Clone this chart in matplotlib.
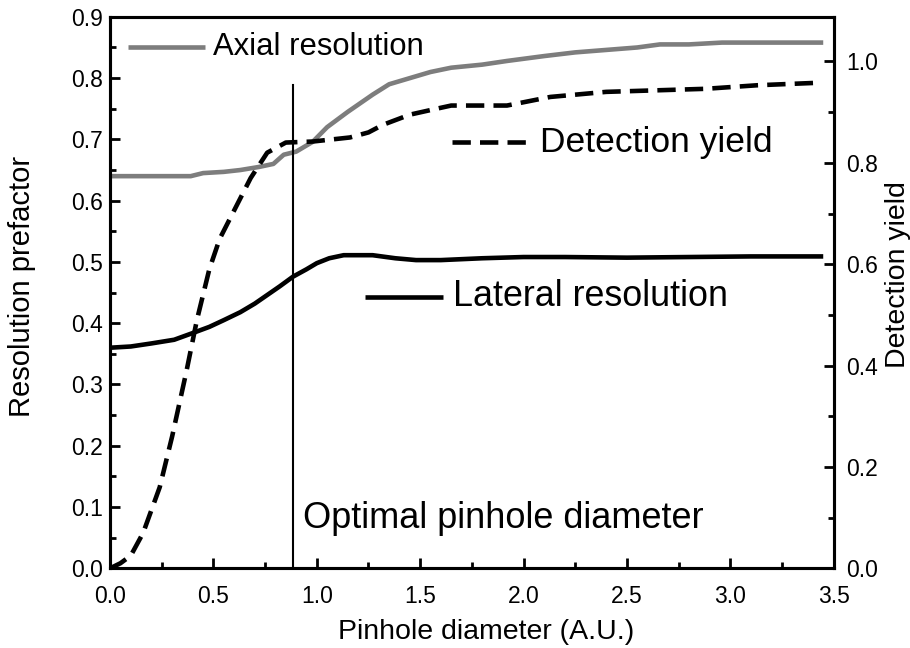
import numpy as np
import matplotlib.pyplot as plt
from matplotlib.ticker import MultipleLocator

plt.rcParams['font.family'] = ['Liberation Sans', 'DejaVu Sans']

# axial resolution prefactor (left axis)
axial_x = [0.0, 0.1, 0.2, 0.3, 0.39, 0.45, 0.55, 0.63, 0.72, 0.79, 0.84, 0.9, 0.98,
           1.05, 1.15, 1.27, 1.35, 1.45, 1.55, 1.65, 1.8, 1.92, 2.1, 2.25, 2.4, 2.55,
           2.66, 2.8, 2.96, 3.2, 3.45]
axial_y = [0.64, 0.64, 0.64, 0.64, 0.64, 0.645, 0.647, 0.65, 0.655, 0.66, 0.675, 0.68, 0.696,
           0.72, 0.745, 0.773, 0.79, 0.80, 0.81, 0.817, 0.822, 0.828, 0.836, 0.842, 0.846, 0.85,
           0.855, 0.855, 0.858, 0.858, 0.858]

# lateral resolution prefactor (left axis)
lateral_x = [0.0, 0.1, 0.2, 0.31, 0.4, 0.48, 0.55, 0.63, 0.7, 0.76, 0.82, 0.885, 0.95, 1.0,
             1.06, 1.13, 1.2, 1.27, 1.38, 1.48, 1.6, 1.8, 2.0, 2.2, 2.5, 2.8, 3.1, 3.45]
lateral_y = [0.36, 0.362, 0.367, 0.373, 0.384, 0.394, 0.405, 0.418, 0.432, 0.446, 0.46, 0.476,
             0.488, 0.498, 0.506, 0.511, 0.511, 0.511, 0.506, 0.503, 0.503, 0.506, 0.508, 0.508,
             0.507, 0.508, 0.509, 0.509]

# detection yield (right axis)
det_x = [0.0, 0.05, 0.1, 0.16, 0.24, 0.3, 0.37, 0.42, 0.48, 0.53, 0.58, 0.63, 0.68, 0.76, 0.85,
         0.98, 1.16, 1.25, 1.32, 1.45, 1.56, 1.65, 1.92, 2.13, 2.4, 2.88, 3.13, 3.43]
det_y = [0.0, 0.01, 0.025, 0.07, 0.16, 0.26, 0.39, 0.49, 0.59, 0.65, 0.69, 0.73, 0.77, 0.82, 0.84,
         0.842, 0.85, 0.86, 0.875, 0.895, 0.905, 0.913, 0.913, 0.93, 0.94, 0.946, 0.953, 0.958]

optimal_d = 0.885

fig = plt.figure(figsize=(9.1, 6.48), dpi=100)
ax = fig.add_axes([0.121, 0.123, 0.795, 0.851])
ax2 = ax.twinx()

gray = '#7d7d7d'
lw = 3.3
ax.plot(axial_x, axial_y, color=gray, lw=lw, solid_capstyle='butt')
ax.plot(lateral_x, lateral_y, color='black', lw=lw, solid_capstyle='butt')
ax2.plot(det_x, det_y, color='black', lw=lw, dashes=(4, 2))

# optimal pinhole marker
ax.plot([optimal_d, optimal_d], [0, 0.788], color='black', lw=1.5)

# in-plot labels with line samples
ax.plot([0.087, 0.459], [0.851, 0.851], color=gray, lw=lw, solid_capstyle='butt')
ax.text(0.498, 0.851, 'Axial resolution', fontsize=22.3, va='center', ha='left')
ax.plot([1.232, 1.609], [0.443, 0.443], color='black', lw=lw, solid_capstyle='butt')
ax.text(1.658, 0.443, 'Lateral resolution', fontsize=25.8, va='center', ha='left')
ax2.plot([1.653, 2.03], [0.841, 0.841], color='black', lw=lw, dashes=(4, 2))
ax2.text(2.078, 0.841, 'Detection yield', fontsize=25.5, va='center', ha='left')
ax.text(0.933, 0.065, 'Optimal pinhole diameter', fontsize=26, va='baseline', ha='left')

ax.set_xlim(0, 3.5)
ax.set_ylim(0, 0.9)
ax2.set_ylim(0, 1.088)

ax.xaxis.set_major_locator(MultipleLocator(0.5))
ax.xaxis.set_minor_locator(MultipleLocator(0.25))
ax.yaxis.set_major_locator(MultipleLocator(0.1))
ax.yaxis.set_minor_locator(MultipleLocator(0.05))
ax2.yaxis.set_major_locator(MultipleLocator(0.2))
ax2.yaxis.set_minor_locator(MultipleLocator(0.1))
ax.xaxis.set_major_formatter(lambda v, p: f'{v:.1f}')
ax.yaxis.set_major_formatter(lambda v, p: f'{v:.1f}')
ax2.yaxis.set_major_formatter(lambda v, p: f'{v:.1f}')

for a in (ax, ax2):
    for s in a.spines.values():
        s.set_linewidth(2.2)
ax.tick_params(axis='both', which='both', direction='in', width=2, labelsize=16.5)
ax.tick_params(axis='both', which='major', length=7)
ax.tick_params(axis='both', which='minor', length=4)
ax.tick_params(axis='x', pad=12)
ax.tick_params(axis='y', pad=5)
ax2.tick_params(axis='y', which='both', direction='in', width=2, labelsize=16.5, pad=9)
ax2.tick_params(axis='y', which='major', length=7)
ax2.tick_params(axis='y', which='minor', length=4)

ax.set_xlabel('Pinhole diameter (A.U.)', fontsize=20.5)
ax.set_ylabel('Resolution prefactor', fontsize=21)
ax2.set_ylabel('Detection yield', fontsize=20.5)
ax.xaxis.set_label_coords(0.52, -0.092)
ax.yaxis.set_label_coords(-0.103, 0.512)
ax2.yaxis.set_label_coords(1.071, 0.532)

fig.savefig('out.png', dpi=100)
